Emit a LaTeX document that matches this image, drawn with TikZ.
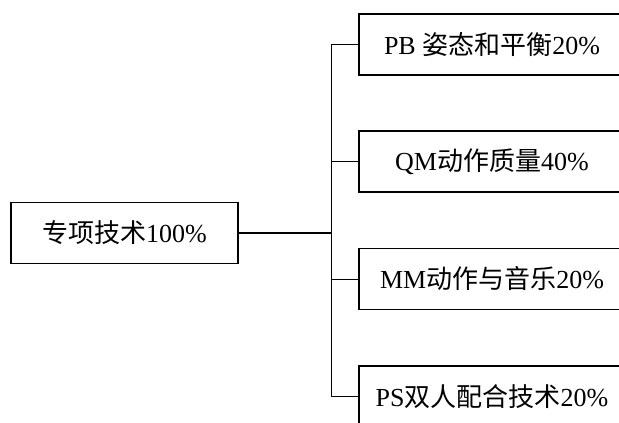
\documentclass[tikz,border=0pt]{standalone}
\usepackage{fontspec}
\setmainfont{Liberation Serif}
\newfontfamily\cjk{Noto Sans CJK SC}
\begin{document}
\begin{tikzpicture}[x=1pt,y=-1pt,
  box/.style={draw=black,line width=1.6pt,rectangle,inner sep=0pt,minimum height=61pt,font=\fontsize{26}{30}\selectfont},
  lbox/.style={box,minimum width=227pt},
  rbox/.style={box,minimum width=266pt},
  conn/.style={draw=black,line width=0.9pt}]
\useasboundingbox (0,0) rectangle (619,423);
\node[lbox] (L) at (124.5,233) {{\cjk 专项技术}100\%};
\node[rbox] (B1) at (492,44.5) {PB {\cjk 姿态和平衡}20\%};
\node[rbox] (B2) at (492,161.5) {QM{\cjk 动作质量}40\%};
\node[rbox] (B3) at (492,279) {MM{\cjk 动作与音乐}20\%};
\node[rbox] (B4) at (492,396.5) {PS{\cjk 双人配合技术}20\%};
\coordinate (J) at (331,233);
\draw[conn,line width=1.4pt] (L.east) -- (J);
\draw[conn] (J) |- (B1.west);
\draw[conn] (J) |- (B2.west);
\draw[conn] (J) |- (B3.west);
\draw[conn] (J) |- (B4.west);
\end{tikzpicture}
\end{document}
